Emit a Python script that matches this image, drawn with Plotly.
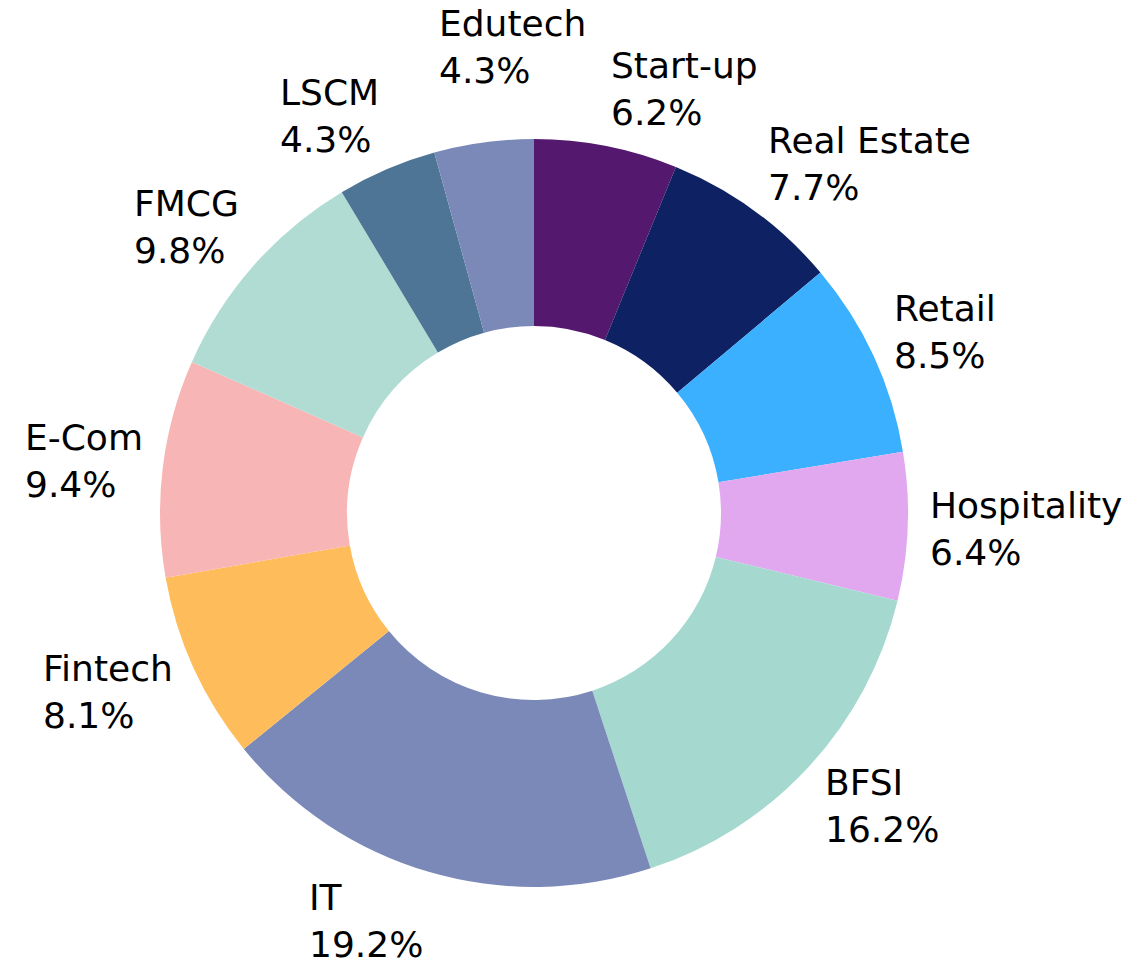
import math
import plotly.graph_objects as go

labels = ["Start-up", "Real Estate", "Retail", "Hospitality", "BFSI", "IT",
          "Fintech", "E-Com", "FMCG", "LSCM", "Edutech"]
values = [6.2, 7.7, 8.5, 6.4, 16.2, 19.2, 8.1, 9.4, 9.8, 4.3, 4.3]
colors = ["#54186F", "#0E2263", "#3AB0FF", "#E1A8F0", "#A5D9CF", "#7B89B9",
          "#FFBC5A", "#F8B5B5", "#B1DCD3", "#4F7596", "#7B89B9"]

W, H = 1146, 968
FONT = "DejaVu Sans"
FS = 36

# approximate DejaVu Sans advance widths (em)
CW = {' ': .318, '%': .950, '-': .361, '.': .318, 'B': .686, 'C': .698, 'D': .770,
      'E': .632, 'F': .575, 'G': .775, 'H': .752, 'I': .295, 'L': .557, 'M': .863,
      'R': .695, 'S': .635, 'T': .611, 'a': .613, 'c': .550, 'd': .635, 'e': .615,
      'h': .634, 'i': .278, 'l': .278, 'm': .974, 'n': .634, 'o': .612, 'p': .635,
      'r': .411, 's': .521, 't': .392, 'u': .634, 'y': .592}


def text_w(s):
    return sum(CW.get(ch, .636) for ch in s) * FS


# donut geometry in pixels
cx, cy, R = 534, 513, 374
dom_x = [(cx - R) / W, (cx + R) / W]
dom_y = [1 - (cy + R) / H, 1 - (cy - R) / H]

fig = go.Figure(go.Pie(
    labels=labels, values=values, sort=False, direction="clockwise", rotation=0,
    hole=0.5, textinfo="none", hoverinfo="label+percent",
    marker=dict(colors=colors, line=dict(width=0)),
    domain=dict(x=dom_x, y=dom_y), showlegend=False,
))

# label boxes from slice mid-angles
total = sum(values)
boxes = []
acc = 0.0
for lab, val in zip(labels, values):
    mid = (acc + val / 2) / total * 2 * math.pi
    acc += val
    s, c = math.sin(mid), math.cos(mid)
    pct = f"{val:.1f}%"
    w = max(text_w(lab), text_w(pct))
    h = 73
    bx = cx + 395 * s + (w / 2 if s >= 0 else -w / 2)
    by = cy - 432 * c
    # resolve overlap with earlier labels
    for (ox, oy, ow, oh, *_r) in boxes:
        if abs(bx - ox) < (w + ow) / 2 and abs(by - oy) < (h + oh) / 2:
            dx, dy = bx - ox, by - oy
            n = math.hypot(dx, dy) or 1
            ux, uy = dx / n, dy / n
            m = 60
            ts = []
            if ux:
                ts.append(((w + ow) / 2 + m - abs(dx)) / abs(ux))
            if uy:
                ts.append(((h + oh) / 2 + m - abs(dy)) / abs(uy))
            t = min(ts)
            bx += ux * t
            by += uy * t
    box_h = 2 * 1.3 * FS
    bx = min(max(bx, w / 2), W - w / 2)
    by = min(max(by, box_h / 2), H - box_h / 2)
    boxes.append((bx, by, w, h, lab, pct))

annotations = []
for bx, by, w, h, lab, pct in boxes:
    left = bx - w / 2
    annotations.append(dict(
        text=f"{lab}<br>{pct}", x=left / W, y=1 - by / H, xref="paper", yref="paper",
        xanchor="left", yanchor="middle", showarrow=False, align="left",
        borderpad=0, font=dict(family=FONT, size=FS, color="#000000"),
    ))

fig.update_layout(
    width=W, height=H, autosize=False,
    margin=dict(l=0, r=0, t=0, b=0),
    paper_bgcolor="white", plot_bgcolor="white",
    annotations=annotations,
)

fig.write_html(
    "out.html",
    config={"displayModeBar": False},
    post_script="document.body.style.margin='0';document.body.style.overflow='hidden';",
)
